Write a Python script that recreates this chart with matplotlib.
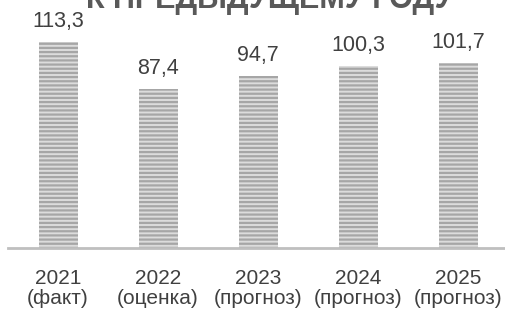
import matplotlib
matplotlib.use("Agg")
import matplotlib.pyplot as plt

years = ['2021', '2022', '2023', '2024', '2025']
notes = ['(факт)', '(оценка)', '(прогноз)', '(прогноз)', '(прогноз)']
values = [113.3, 87.4, 94.7, 100.3, 101.7]
title = 'К ПРЕДЫДУЩЕМУ ГОДУ'

plt.rcParams['font.family'] = ['Liberation Sans', 'DejaVu Sans']
plt.rcParams['hatch.linewidth'] = 1.6
plt.rcParams['hatch.color'] = '#a6a6a6'

fig = plt.figure(figsize=(5.05, 3.09), dpi=100)
# axes: x from 8px to 508px, bottom at 248px from top, top at figure top
ax = fig.add_axes([8 / 505, 61 / 309, 500 / 505, 248 / 309])

xs = list(range(len(values)))
ax.bar(xs, values, width=0.39, color='#dcdcdc', hatch='----', edgecolor='#a6a6a6', linewidth=0)
for x, v in zip(xs, values):
    ax.annotate(f'{v:.1f}'.replace('.', ','), (x, v), xytext=(0, 7), textcoords='offset points',
                ha='center', va='bottom', fontsize=15.5, color='#404040')

ax.set_xlim(-0.5, 4.5)
ax.set_ylim(0, 136.4)
ax.set_xticks(xs)
ax.set_xticklabels([f'{y}\n{n}' for y, n in zip(years, notes)], fontsize=15, color='#404040',
                   linespacing=1.1)
ax.tick_params(axis='x', length=0, pad=15)
ax.set_yticks([])
for s in ['top', 'right', 'left']:
    ax.spines[s].set_visible(False)
ax.spines['bottom'].set_color('#bfbfbf')
ax.spines['bottom'].set_linewidth(2)

fig.text(270 / 505, 1 - 8 / 309, title, ha='center', va='baseline', fontsize=22,
         fontweight='bold', color='#595959')

fig.savefig('out.png', dpi=100)
